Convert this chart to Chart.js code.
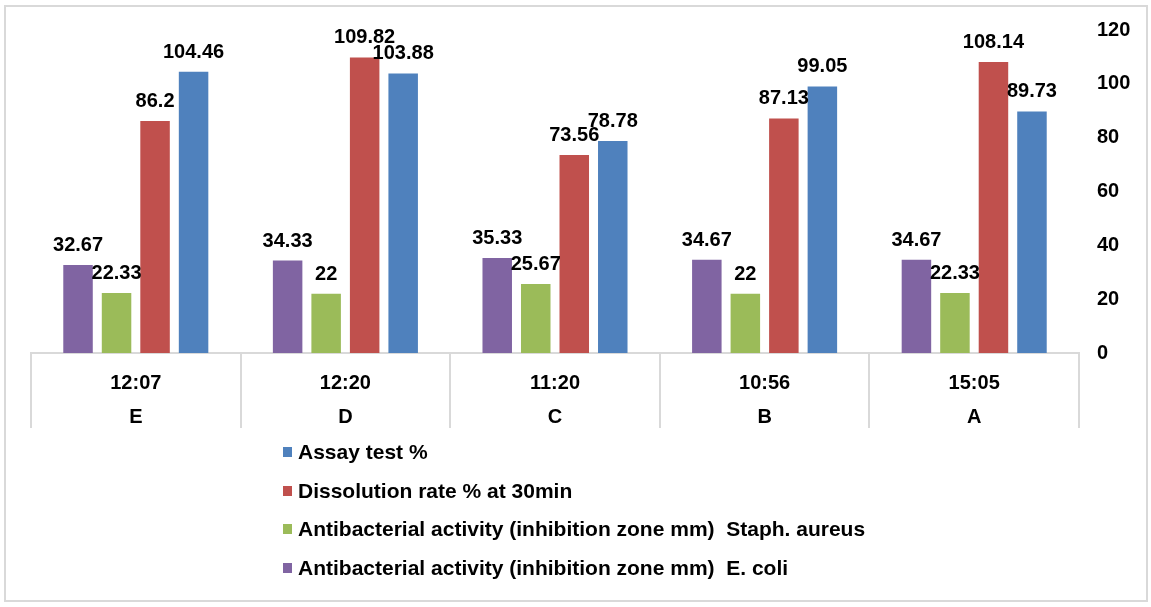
<!DOCTYPE html>
<html>
<head>
<meta charset="utf-8">
<script src="https://cdn.jsdelivr.net/npm/chart.js@4.4.1/dist/chart.umd.min.js"></script>
<style>
  html, body { margin: 0; padding: 0; background: #fff; }
  #wrap { position: relative; width: 1151px; height: 607px; overflow: hidden; }
  #frame { position: absolute; left: 4px; top: 5px; width: 1140px; height: 593px; border: 2px solid #d9d9d9; box-sizing: content-box; pointer-events: none; }
  #c { position: absolute; left: 0; top: 0; }
  #legend { position: absolute; left: 283px; top: 0; font-family: "Liberation Sans", Arial, sans-serif; font-weight: bold; font-size: 21px; color: #000; }
  .item { position: absolute; left: 0; white-space: pre; height: 24px; line-height: 24px; }
  .sw { position: absolute; left: 0; top: 7px; width: 9px; height: 10px; }
  .tx { position: absolute; left: 15px; top: 0; }
</style>
</head>
<body>
<div id="wrap">
  <canvas id="c" width="1151" height="607"></canvas>
  <div id="frame"></div>
  <div id="legend"></div>
</div>
<script>
const timeLabels = ["12:07", "12:20", "11:20", "10:56", "15:05"];
const groupLabels = ["E", "D", "C", "B", "A"];
const ecoli = [32.67, 34.33, 35.33, 34.67, 34.67];
const staph = [22.33, 22, 25.67, 22, 22.33];
const dissolution = [86.2, 109.82, 73.56, 87.13, 108.14];
const assay = [104.46, 103.88, 78.78, 99.05, 89.73];
const seriesNames = [
  "Antibacterial activity (inhibition zone mm)  E. coli",
  "Antibacterial activity (inhibition zone mm)  Staph. aureus",
  "Dissolution rate % at 30min",
  "Assay test %"
];
const seriesColors = ["#8064A2", "#9BBB59", "#C0504D", "#4F81BD"];
const yTicks = [0, 20, 40, 60, 80, 100, 120];

const FONT = "'Liberation Sans', Arial, sans-serif";
const gridColor = "#d9d9d9";

const labels = timeLabels.map((t, i) => [t, groupLabels[i]]);
const seriesData = [ecoli, staph, dissolution, assay];

const valueLabels = {
  id: 'valueLabels',
  afterDatasetsDraw(chart) {
    const ctx = chart.ctx;
    ctx.save();
    ctx.font = "bold 20px " + FONT;
    ctx.fillStyle = "#000";
    ctx.textAlign = "center";
    ctx.textBaseline = "alphabetic";
    chart.data.datasets.forEach((ds, di) => {
      const meta = chart.getDatasetMeta(di);
      meta.data.forEach((el, i) => {
        ctx.fillText(String(ds.data[i]), el.x, el.y - 14);
      });
    });
    ctx.restore();
  }
};

const chart = new Chart(document.getElementById('c'), {
  type: 'bar',
  data: {
    labels: labels,
    datasets: seriesData.map((d, i) => ({
      label: seriesNames[i],
      data: d,
      backgroundColor: seriesColors[i],
      borderWidth: 0,
      categoryPercentage: 0.735,
      barPercentage: 0.766
    }))
  },
  options: {
    responsive: false,
    animation: false,
    devicePixelRatio: 1,
    layout: { padding: { left: 31, right: 0, top: 30, bottom: 0 } },
    plugins: { legend: { display: false }, tooltip: { enabled: false } },
    scales: {
      x: {
        offset: true,
        grid: { display: true, drawOnChartArea: false, drawTicks: true, tickLength: 75, color: gridColor, lineWidth: 2, offset: true },
        border: { display: true, color: gridColor, width: 2 },
        ticks: { color: "#000", font: { family: FONT, size: 20, weight: 'bold', lineHeight: 1.7 }, padding: -62, maxRotation: 0, autoSkip: false },
        afterFit(scale) { scale.height = 254; }
      },
      y: {
        position: 'right',
        min: 0, max: 120,
        afterBuildTicks(scale) { scale.ticks = yTicks.map(v => ({ value: v })); },
        grid: { display: false, drawTicks: false },
        border: { display: false },
        ticks: { color: "#000", font: { family: FONT, size: 20, weight: 'bold' }, padding: 18 },
        afterFit(scale) { scale.width = 72; }
      }
    }
  },
  plugins: [valueLabels]
});

// Legend (reverse order, vertical list below the chart)
const legend = document.getElementById('legend');
const rowCenters = [452, 491, 529, 568];
[3, 2, 1, 0].forEach((si, r) => {
  const item = document.createElement('div');
  item.className = 'item';
  item.style.top = (rowCenters[r] - 12) + 'px';
  const sw = document.createElement('div');
  sw.className = 'sw';
  sw.style.background = seriesColors[si];
  const tx = document.createElement('div');
  tx.className = 'tx';
  tx.textContent = seriesNames[si];
  item.appendChild(sw);
  item.appendChild(tx);
  legend.appendChild(item);
});
</script>
</body>
</html>
